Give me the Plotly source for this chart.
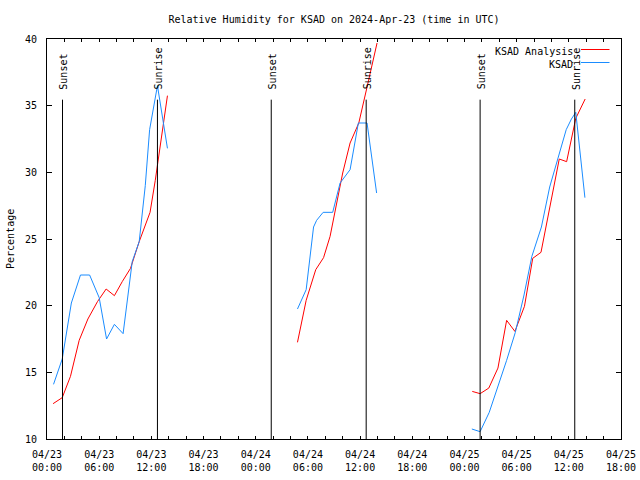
import pandas as pd
import plotly.graph_objects as go

# ---------------- data (hours since 2024-04-23 00:00 UTC) ----------------
analysis_hours = [0.7, 1.75, 2.7, 3.7, 4.7, 5.8, 6.8, 7.75, 8.65, 9.6, 10.6, 11.3, 11.85, 12.45, 13.0, 13.4, 13.85,
                  None,
                  28.8, 29.8, 30.9, 31.8, 32.55, 33.5, 34.0, 34.85, 35.85, 36.8, 37.95,
                  None,
                  48.9, 49.8, 50.8, 51.85, 52.85, 53.8, 54.9, 55.85, 56.8, 57.85, 58.9, 59.75, 60.8, 61.88]
analysis_rh = [12.65, 13.1, 14.7, 17.4, 19.0, 20.3, 21.25, 20.75, 21.8, 22.8, 24.8, 25.95, 27.0, 29.4, 31.9, 34.1, 35.75,
               None,
               17.25, 20.4, 22.7, 23.6, 25.2, 28.2, 29.95, 32.2, 33.7, 36.4, 39.7,
               None,
               13.57, 13.4, 13.82, 15.32, 18.9, 18.07, 19.95, 23.55, 24.0, 27.4, 31.0, 30.8, 34.05, 35.5]

obs_hours = [0.75, 1.75, 2.8, 3.85, 4.9, 6.0, 6.85, 7.75, 8.75, 9.8, 10.6, 11.3, 11.8, 12.7, 13.85,
             None,
             28.8, 29.8, 30.65, 31.0, 31.75, 32.85, 33.7, 34.85, 35.8, 36.8, 37.9,
             None,
             48.85, 49.8, 50.85, 51.85, 52.85, 53.85, 54.85, 55.75, 56.85, 57.8, 58.8, 59.7, 60.3, 60.8, 61.85]
obs_rh = [14.1, 16.0, 20.2, 22.3, 22.3, 20.6, 17.5, 18.6, 17.9, 23.3, 24.8, 29.0, 33.2, 36.5, 31.8,
          None,
          19.75, 21.2, 25.9, 26.4, 27.0, 27.0, 29.2, 30.2, 33.7, 33.7, 28.45,
          None,
          10.75, 10.55, 12.0, 13.9, 15.9, 18.0, 20.8, 23.7, 25.9, 28.9, 31.1, 33.2, 34.0, 34.5, 28.1]

event_labels = ["Sunset", "Sunrise", "Sunset", "Sunrise", "Sunset", "Sunrise"]
event_times = ["2024-04-23 01:47", "2024-04-23 12:42", "2024-04-24 01:47",
               "2024-04-24 12:42", "2024-04-25 01:48", "2024-04-25 12:41"]
event_line_top = 35.45
event_label_base = 36.05

x_tick_times = ["2024-04-23 00:00", "2024-04-23 06:00", "2024-04-23 12:00", "2024-04-23 18:00",
                "2024-04-24 00:00", "2024-04-24 06:00", "2024-04-24 12:00", "2024-04-24 18:00",
                "2024-04-25 00:00", "2024-04-25 06:00", "2024-04-25 12:00", "2024-04-25 18:00"]
x_tick_text = ["04/23<br>00:00", "04/23<br>06:00", "04/23<br>12:00", "04/23<br>18:00",
               "04/24<br>00:00", "04/24<br>06:00", "04/24<br>12:00", "04/24<br>18:00",
               "04/25<br>00:00", "04/25<br>06:00", "04/25<br>12:00", "04/25<br>18:00"]

series_names = ["KSAD Analysis", "KSAD"]
series_colors = ["#ff0000", "#1a8cff"]

title_text = "Relative Humidity for KSAD on 2024-Apr-23 (time in UTC)"
y_title = "Percentage"

# ---------------- build ----------------
BASE = pd.Timestamp("2024-04-23 00:00")


def to_time(hours):
    return [None if h is None else BASE + pd.Timedelta(hours=h) for h in hours]


FONT = "DejaVu Sans Mono"
FS = 10

fig = go.Figure()
fig.add_trace(go.Scatter(x=to_time(analysis_hours), y=analysis_rh, mode="lines",
                         line=dict(color=series_colors[0], width=1), name=series_names[0]))
fig.add_trace(go.Scatter(x=to_time(obs_hours), y=obs_rh, mode="lines",
                         line=dict(color=series_colors[1], width=1), name=series_names[1]))

for lab, t in zip(event_labels, event_times):
    fig.add_shape(type="line", xref="x", yref="y", x0=t, x1=t, y0=10, y1=event_line_top,
                  line=dict(color="black", width=1))
    fig.add_annotation(x=t, y=event_label_base, xref="x", yref="y", text=lab, textangle=-90,
                       showarrow=False, xanchor="center", yanchor="bottom", xshift=1.5,
                       font=dict(family=FONT, size=FS, color="black"))

# gnuplot-style legend (text left, sample right)
L, R, T, B = 47, 621, 39, 439


def px(xp):
    return (xp - L) / (R - L)


def py(yp):
    return (B - yp) / (B - T)


for i, (nm, col) in enumerate(zip(series_names, series_colors)):
    ty = 51 + 13.3 * i
    ly = 49.5 + 13.0 * i
    fig.add_annotation(x=px(575), y=py(ty), xref="paper", yref="paper", text=nm, showarrow=False,
                       xanchor="right", yanchor="middle", font=dict(family=FONT, size=FS, color="black"))
    fig.add_shape(type="line", xref="paper", yref="paper", x0=px(581), x1=px(609.5), y0=py(ly), y1=py(ly),
                  line=dict(color=col, width=1))

fig.add_annotation(x=px(10), y=0.5, xref="paper", yref="paper", text=y_title, textangle=-90,
                   showarrow=False, xanchor="center", yanchor="middle",
                   font=dict(family=FONT, size=FS, color="black"))

fig.update_layout(
    width=640, height=480,
    margin=dict(l=47, r=19, t=39, b=41, pad=0, autoexpand=False),
    paper_bgcolor="white", plot_bgcolor="white",
    showlegend=False,
    font=dict(family=FONT, size=FS, color="black"),
    title=dict(text=title_text, x=0.5, xref="paper", xanchor="center",
               y=1 - 19 / 480, yref="container", yanchor="middle",
               font=dict(family=FONT, size=FS, color="black")),
)

fig.update_xaxes(
    type="date", range=["2024-04-23 00:00", "2024-04-25 18:00"], automargin=False,
    tickmode="array", tickvals=x_tick_times, ticktext=x_tick_text,
    ticks="inside", ticklen=3, tickcolor="black", tickwidth=1,
    minor=dict(dtick=2 * 3600 * 1000, tick0="2024-04-23", ticks="inside", ticklen=3, tickcolor="black"),
    showline=True, linecolor="black", linewidth=1, mirror="ticks",
    showgrid=False, zeroline=False, ticklabelstandoff=6,
    tickfont=dict(family=FONT, size=FS, color="black"),
)
fig.update_yaxes(
    range=[10, 40], dtick=5, tick0=10, automargin=False,
    ticks="inside", ticklen=5, tickcolor="black", tickwidth=1,
    showline=True, linecolor="black", linewidth=1, mirror="ticks",
    showgrid=False, zeroline=False, ticklabelstandoff=7,
    tickfont=dict(family=FONT, size=FS, color="black"),
)

fig.write_html("out.html", config={"displayModeBar": False},
               post_script="document.body.style.margin='0';document.body.style.overflow='hidden';")
